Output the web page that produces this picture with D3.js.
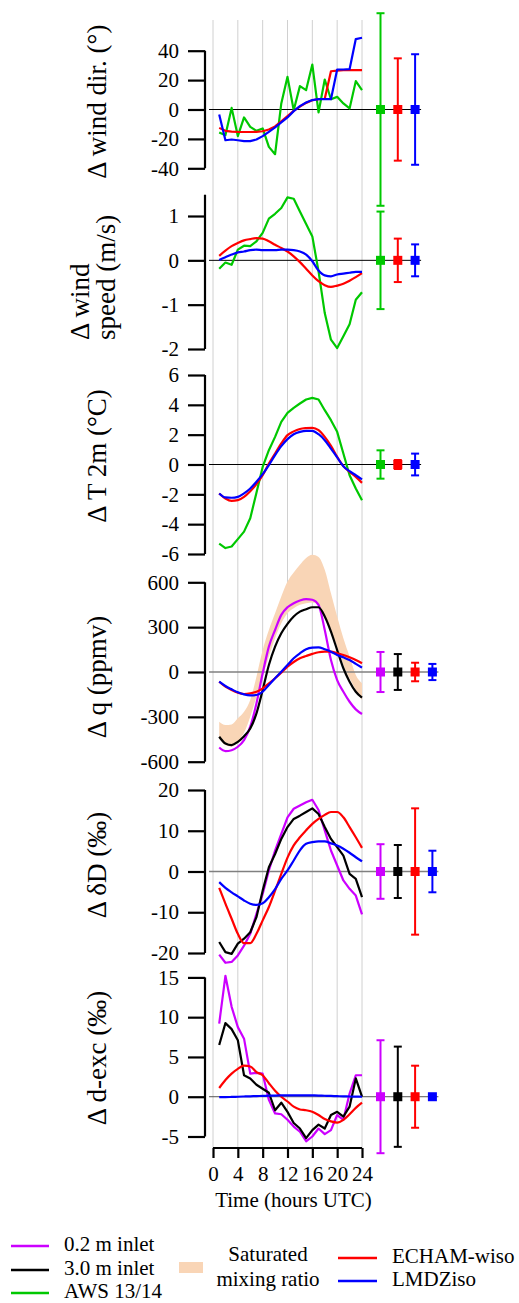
<!DOCTYPE html>
<html><head><meta charset="utf-8">
<script src="https://cdn.jsdelivr.net/npm/d3@7"></script>
<style>
html,body{margin:0;padding:0;background:#fff;}
svg text{font-family:"Liberation Serif","Times New Roman",serif;}
</style></head>
<body>
<svg id="chart" width="519" height="1303"></svg>
<script>
// ---------------- DATA ----------------
const hours = [1,2,3,4,5,6,7,8,9,10,11,12,13,14,15,16,17,18,19,20,21,22,23,24];
const xTicks = [0,4,8,12,16,20,24];

// Δ wind direction (°)
const windDirAWS   = [-15.6,-17.5,1.1,-18.1,-5.4,-11.8,-14.5,-12.9,-25.4,-30.4,4.1,22.2,-0.5,15.9,13.2,30.6,-2.0,20.4,7.0,8.6,4.1,0.7,19.3,13.2];
const windDirECHAM = [-12.5,-14.5,-15,-15.2,-15.3,-15.3,-15.2,-14.8,-13.6,-11.5,-8,-4.5,-1,2,4.5,6.3,7,7.3,26,26.5,26.7,26.8,26.8,26.8];
const windDirLMDZ  = [-3.4,-20.9,-20.4,-20.9,-21.5,-21.5,-20.4,-18.1,-15.2,-12.2,-8.8,-5.4,-1.1,2.3,4.8,6.4,7,7,7,27.2,27.2,27.4,47.9,48.8];
const windDirErr   = [65.5,34.8,37.6];
const windDirTicks = [-40,-20,0,20,40];

// Δ wind speed (m/s)
const windSpdAWS   = [-0.19,-0.05,-0.1,0.24,0.33,0.32,0.43,0.62,0.94,1.05,1.18,1.42,1.39,1.1,0.82,0.54,-0.25,-1.19,-1.79,-1.98,-1.71,-1.44,-0.89,-0.72];
const windSpdECHAM = [0.1,0.22,0.32,0.39,0.45,0.48,0.5,0.49,0.43,0.35,0.28,0.2,0.09,-0.04,-0.19,-0.34,-0.47,-0.56,-0.6,-0.57,-0.53,-0.46,-0.38,-0.29];
const windSpdLMDZ  = [0.01,0.07,0.13,0.18,0.2,0.23,0.24,0.23,0.23,0.23,0.24,0.24,0.23,0.2,0.13,-0.02,-0.23,-0.34,-0.36,-0.32,-0.3,-0.28,-0.26,-0.26];
const windSpdErr   = [1.1,0.49,0.36];
const windSpdTicks = [-2,-1,0,1];

// Δ T 2m (°C)
const t2mAWS   = [-5.3,-5.6,-5.5,-5.0,-4.5,-3.6,-1.9,-0.16,0.96,1.85,2.86,3.46,3.8,4.09,4.36,4.47,4.36,3.64,2.97,2.19,0.74,-0.72,-1.61,-2.39];
const t2mECHAM = [-1.94,-2.28,-2.44,-2.39,-2.17,-1.79,-1.32,-0.72,0.07,0.74,1.41,1.97,2.22,2.38,2.44,2.46,2.3,1.85,1.25,0.51,-0.11,-0.49,-0.83,-1.23];
const t2mLMDZ  = [-1.94,-2.21,-2.23,-2.17,-1.94,-1.61,-1.16,-0.65,-0.04,0.63,1.23,1.7,2.03,2.19,2.26,2.26,2.03,1.63,1.07,0.47,-0.11,-0.45,-0.72,-1.0];
const t2mErr   = [0.95,0.3,0.73];
const t2mTicks = [-6,-4,-2,0,2,4,6];

// Δ q (ppmv)
const qInlet02 = [-505,-529,-523,-500,-456,-366,-210,-9,170,281,382,433,460,478,487,483,449,281,80,-54,-132,-199,-250,-281];
const qInlet30 = [-433,-478,-489,-467,-429,-378,-277,-121,47,170,259,322,371,404,420,433,433,371,270,147,25,-65,-132,-172];
const qECHAM   = [-65,-98,-121,-139,-147,-143,-132,-109,-76,-42,-4,36,67,92,107,121,132,136,136,125,114,98,80,58];
const qLMDZ    = [-65,-94,-116,-136,-150,-156,-154,-132,-87,-42,2,47,92,125,152,163,165,152,136,114,98,80,54,29];
const qSatLow  = [-445,-489,-500,-467,-407,-299,-165,-31,103,226,326,393,427,449,460,465,449,382,281,170,47,-42,-121,-188];
const qSatHigh = [-333,-355,-351,-310,-266,-188,-31,147,281,393,505,605,666,717,762,784,769,684,527,371,226,103,-20,-76];
const qErr     = [134,120,62,54];
const qTicks   = [-600,-300,0,300,600];

// Δ δD (‰)
const dDInlet02 = [-20.4,-22.4,-22.2,-20.6,-18.2,-15.3,-10.4,-5.5,0.25,5.15,9.2,13.3,15.4,16.2,17.0,17.6,15.1,10.1,5.15,1.47,-2.2,-4.25,-5.9,-10.5];
const dDInlet30 = [-17.3,-19.8,-20.2,-17.7,-16.5,-14.9,-11.2,-4.7,1.06,4.3,8.0,10.9,12.9,13.7,14.6,15.5,14.1,10.9,8.0,6.0,3.9,-0.6,-1.8,-6.3];
const dDECHAM   = [-4.0,-7.9,-11.6,-15.3,-17.6,-17.6,-15.3,-12.0,-8.7,-4.7,-0.6,3.4,6.4,8.4,10.1,11.7,12.9,13.9,14.6,14.6,13.3,10.9,8.4,5.8];
const dDLMDZ    = [-2.6,-4.0,-5.1,-6.1,-7.1,-7.9,-8.2,-7.8,-6.3,-4.3,-1.8,0.25,2.7,5.2,6.8,7.2,7.4,7.4,6.9,6.4,5.6,4.6,3.5,2.5];
const dDErr     = [6.7,6.5,15.5,5.1];
const dDTicks   = [-20,-10,0,10,20];

// Δ d-excess (‰)
const dexInlet02 = [9.2,15.2,11.3,8.75,7.3,2.9,3.0,2.9,-0.4,-2.1,-2.2,-2.9,-3.75,-4.4,-5.6,-5.0,-4.0,-4.7,-4.2,-2.3,-2.9,0.4,2.7,2.7];
const dexInlet30 = [6.5,9.25,8.5,7.1,2.7,2.3,1.5,1.0,0.5,-1.7,-0.75,-1.9,-3.3,-4.0,-5.2,-4.2,-3.5,-4.0,-2.3,-1.9,-2.5,-1.25,2.3,0];
const dexECHAM   = [1.1,2.1,2.9,3.5,3.9,3.8,3.1,2.7,1.7,0.75,0,-0.6,-1.25,-1.6,-1.7,-1.9,-2.3,-2.8,-3.1,-3.25,-2.9,-2.2,-1.4,-0.75];
const dexLMDZ    = [-0.05,-0.05,-0.03,0,0.03,0.05,0.08,0.1,0.13,0.15,0.17,0.18,0.18,0.18,0.18,0.17,0.15,0.12,0.1,0.07,0.05,0.03,0.01,0];
const dexErr     = [7.1,6.3,3.9,0];
const dexTicks   = [-5,0,5,10,15];

const legendLines = ["0.2 m inlet","3.0 m inlet","AWS 13/14"];
const legendModels = ["ECHAM-wiso","LMDZiso"];
const legendBand = ["Saturated","mixing ratio"];

// ---------------- STYLE / LAYOUT ----------------
const FONT = '"Liberation Serif","Times New Roman",serif';
const C = {in02:"#cc00ff", in30:"#000000", aws:"#00c800", echam:"#ff0000", lmdz:"#0000ff", band:"#f9d5b6"};
const svg = d3.select("#chart").attr("font-family",FONT);
const x = d3.scaleLinear().domain([0,24]).range([213,362]);
const gridTop = 20, xAxisY = 1148, yAxisX = 205;
const TICK_FS = 21, LABEL_FS = 27, LEG_FS = 21;

const panels = [
  {label:["Δ wind dir. (°)"], ticks:windDirTicks, dom:[-40,40], rng:[168.3,50.7], axisMax:40, zeroCol:"#000", zeroW:1,
   series:[[windDirAWS,C.aws,false],[windDirECHAM,C.echam,false],[windDirLMDZ,C.lmdz,false]],
   err:[[windDirErr[0],C.aws],[windDirErr[1],C.echam],[windDirErr[2],C.lmdz]]},
  {label:["Δ wind","speed (m/s)"], ticks:windSpdTicks, dom:[-2,1], rng:[349,216], axisMax:1.48, zeroCol:"#000", zeroW:1,
   series:[[windSpdAWS,C.aws,false],[windSpdECHAM,C.echam,true],[windSpdLMDZ,C.lmdz,true]],
   err:[[windSpdErr[0],C.aws],[windSpdErr[1],C.echam],[windSpdErr[2],C.lmdz]]},
  {label:["Δ T 2m (°C)"], ticks:t2mTicks, dom:[-6,6], rng:[554,375], axisMax:6, zeroCol:"#000", zeroW:1,
   series:[[t2mAWS,C.aws,false],[t2mECHAM,C.echam,true],[t2mLMDZ,C.lmdz,true]],
   err:[[t2mErr[0],C.aws],[t2mErr[1],C.echam],[t2mErr[2],C.lmdz]]},
  {label:["Δ q (ppmv)"], ticks:qTicks, dom:[-600,600], rng:[761.7,582.3], axisMax:600, zeroCol:"#808080", zeroW:1.5,
   band:[qSatLow,qSatHigh],
   series:[[qInlet02,C.in02,true],[qInlet30,C.in30,true],[qECHAM,C.echam,true],[qLMDZ,C.lmdz,true]],
   err:[[qErr[0],C.in02],[qErr[1],C.in30],[qErr[2],C.echam],[qErr[3],C.lmdz]]},
  {label:["Δ δD (‰)"], ticks:dDTicks, dom:[-20,20], rng:[953,790], axisMax:20, zeroCol:"#808080", zeroW:1.5,
   series:[[dDInlet02,C.in02,false],[dDInlet30,C.in30,false],[dDECHAM,C.echam,true],[dDLMDZ,C.lmdz,true]],
   err:[[dDErr[0],C.in02],[dDErr[1],C.in30],[dDErr[2],C.echam],[dDErr[3],C.lmdz]]},
  {label:["Δ d-exc (‰)"], ticks:dexTicks, dom:[-5,15], rng:[1136.5,977.4], axisMax:15, zeroCol:"#555", zeroW:1,
   series:[[dexInlet02,C.in02,false],[dexInlet30,C.in30,false],[dexECHAM,C.echam,true],[dexLMDZ,C.lmdz,true]],
   err:[[dexErr[0],C.in02],[dexErr[1],C.in30],[dexErr[2],C.echam],[dexErr[3],C.lmdz]]}
];
const labelCenters = [101.7, 340, 456, 677, 865, 1058];

// grid lines
svg.append("g").selectAll("line").data(xTicks).join("line")
  .attr("x1",d=>x(d)).attr("x2",d=>x(d)).attr("y1",gridTop).attr("y2",xAxisY)
  .attr("stroke","#d0d0d0").attr("stroke-width",1);

panels.forEach((p,i)=>{
  const y = d3.scaleLinear().domain(p.dom).range(p.rng);
  const g = svg.append("g");
  const errX = d3.scalePoint().domain(d3.range(p.err.length)).range([380.5, 380.5 + 17.3*(p.err.length-1)]);
  const zeroEnd = errX(p.err.length-1) + 6;

  if (p.band){
    const area = d3.area().x((d,j)=>x(hours[j])).y0((d,j)=>y(p.band[0][j])).y1((d,j)=>y(p.band[1][j])).curve(d3.curveMonotoneX);
    g.append("path").datum(p.band[0]).attr("d",area).attr("fill",C.band);
  }
  g.append("line").attr("x1",209).attr("x2",zeroEnd).attr("y1",y(0)).attr("y2",y(0))
    .attr("stroke",p.zeroCol).attr("stroke-width",p.zeroW);
  p.series.forEach(([vals,col,smooth])=>{
    const line = d3.line().x((d,j)=>x(hours[j])).y(d=>y(d)).curve(smooth?d3.curveMonotoneX:d3.curveLinear);
    g.append("path").datum(vals).attr("d",line).attr("fill","none").attr("stroke",col)
      .attr("stroke-width",2.2).attr("stroke-linejoin","round");
  });
  p.err.forEach(([e,col],k)=>{
    const ex = errX(k);
    const eg = g.append("g").attr("stroke",col).attr("stroke-width",2);
    if (e>0){
      eg.append("line").attr("x1",ex).attr("x2",ex).attr("y1",y(-e)).attr("y2",y(e));
      eg.append("line").attr("x1",ex-4).attr("x2",ex+4).attr("y1",y(e)).attr("y2",y(e));
      eg.append("line").attr("x1",ex-4).attr("x2",ex+4).attr("y1",y(-e)).attr("y2",y(-e));
    }
    g.append("rect").attr("x",ex-4.5).attr("y",y(0)-4.5).attr("width",9).attr("height",9).attr("fill",col);
  });
  const ax = g.append("g").attr("transform",`translate(${yAxisX},0)`)
    .call(d3.axisLeft(y).tickValues(p.ticks).tickSize(17).tickPadding(9).tickFormat(d3.format("d")));
  ax.attr("font-family",FONT).attr("font-size",TICK_FS);
  ax.select(".domain").remove();
  ax.append("line").attr("x1",0).attr("x2",0).attr("y1",y(p.dom[0])).attr("y2",y(p.axisMax))
    .attr("stroke","#000").attr("stroke-width",2.2);
  ax.selectAll(".tick line").attr("stroke","#000").attr("stroke-width",2.2);
  ax.selectAll(".tick text").attr("fill","#000").text(d=>d<0 ? "-"+Math.abs(d) : d);
  if (p.label.length===1){
    g.append("text").attr("transform",`translate(106,${labelCenters[i]}) rotate(-90)`)
      .attr("text-anchor","middle").attr("font-size",LABEL_FS).text(p.label[0]);
  } else {
    g.append("text").attr("transform",`translate(89,${labelCenters[i]}) rotate(-90)`)
      .attr("text-anchor","start").attr("font-size",LABEL_FS).text(p.label[0]);
    g.append("text").attr("transform",`translate(115,${labelCenters[i]}) rotate(-90)`)
      .attr("text-anchor","start").attr("font-size",LABEL_FS).text(p.label[1]);
  }
});

const xa = svg.append("g").attr("transform",`translate(0,${xAxisY})`)
  .call(d3.axisBottom(x).tickValues(xTicks).tickSize(10).tickPadding(8));
xa.attr("font-family",FONT).attr("font-size",TICK_FS);
xa.select(".domain").attr("stroke","#000").attr("stroke-width",2.2).attr("d",`M${x(0)},0H${x(24)}`);
xa.selectAll(".tick line").attr("stroke","#000").attr("stroke-width",2.2);
xa.selectAll(".tick text").attr("fill","#000");
svg.append("text").attr("x",(x(0)+x(24))/2+6).attr("y",1207).attr("text-anchor","middle")
  .attr("font-size",LEG_FS).text("Time (hours UTC)");

const lg = svg.append("g").attr("font-size",LEG_FS);
[[legendLines[0],C.in02,1246],[legendLines[1],C.in30,1270],[legendLines[2],C.aws,1293]].forEach(([t,c,yy])=>{
  lg.append("line").attr("x1",11).attr("x2",49).attr("y1",yy).attr("y2",yy).attr("stroke",c).attr("stroke-width",2.5);
  lg.append("text").attr("x",64).attr("y",yy+5).text(t);
});
lg.append("rect").attr("x",179).attr("y",1262).attr("width",24).attr("height",11).attr("fill",C.band);
lg.append("text").attr("x",268).attr("y",1261).attr("text-anchor","middle").text(legendBand[0]);
lg.append("text").attr("x",268).attr("y",1286).attr("text-anchor","middle").text(legendBand[1]);
[[legendModels[0],C.echam,1258],[legendModels[1],C.lmdz,1281]].forEach(([t,c,yy])=>{
  lg.append("line").attr("x1",338).attr("x2",377).attr("y1",yy).attr("y2",yy).attr("stroke",c).attr("stroke-width",2.5);
  lg.append("text").attr("x",392).attr("y",yy+5).text(t);
});
</script>
</body></html>
